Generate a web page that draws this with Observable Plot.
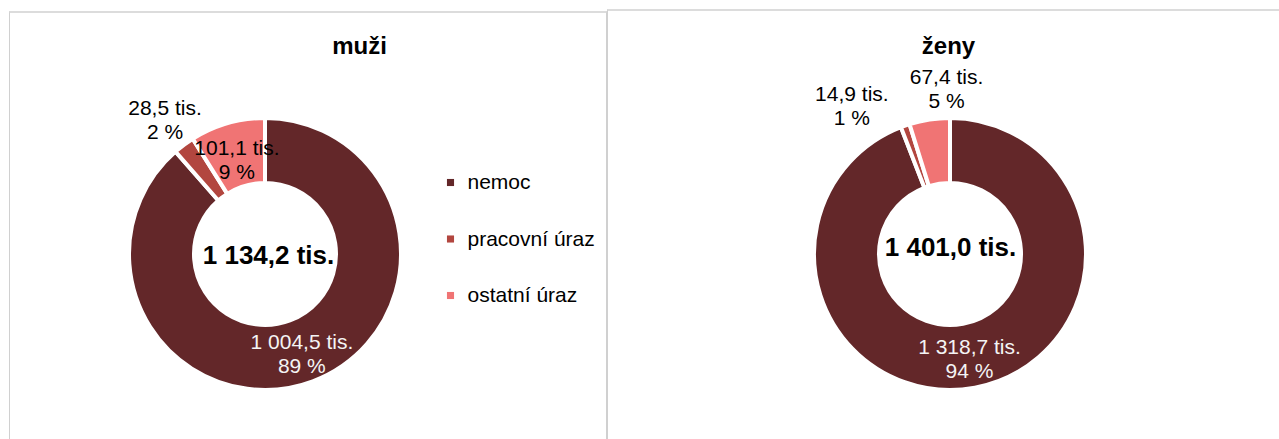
<!DOCTYPE html>
<html><head><meta charset="utf-8">
<script src="https://cdn.jsdelivr.net/npm/d3@7"></script>
<script src="https://cdn.jsdelivr.net/npm/@observablehq/plot@0.6"></script>
<style>
body{margin:0;background:#fff;font-family:"Liberation Sans",Arial,sans-serif}
#wrap{position:relative;width:1279px;height:439px;overflow:hidden;background:#fff}
.panel{position:absolute;box-sizing:border-box;border-left:1px solid #d0d0d0;border-right:1px solid #d0d0d0;border-top:2px solid #dcdcdc;background:#fff}
#wrap svg{position:absolute;left:0;top:0}
</style></head><body><div id="wrap"></div>
<script>
// ---- data ----
const categories = ["nemoc", "pracovní úraz", "ostatní úraz"];
const muzi = [1004.5, 28.5, 101.1];          // tis.
const zeny = [1318.7, 14.9, 67.4];           // tis.
const muziPct = [89, 2, 9];
const zenyPct = [94, 1, 5];
const totals = [1134.2, 1401.0];
const panelTitles = ["muži", "ženy"];
const colors = ["#632729", "#B2463F", "#F07474"];

// ---- layout ----
const W = 1279, H = 439;
const FONT = "'Liberation Sans', Arial, sans-serif";
const wrap = document.getElementById("wrap");
const fmt = d3.formatLocale({decimal: ",", thousands: " ", grouping: [3], currency: ["", ""]}).format(",.1f");
const color = Plot.scale({color: {type: "ordinal", domain: categories, range: colors}});

// panel frames
[[9, 11, 598, 500], [607, 9, 700, 500]].forEach(([l, t, w, h]) => {
  const d = document.createElement("div");
  d.className = "panel";
  Object.assign(d.style, {left: l + "px", top: t + "px", width: w + "px", height: h + "px"});
  wrap.appendChild(d);
});

const panels = [
  {title: panelTitles[0], values: muzi, pct: muziPct, total: totals[0], cx: 265, cy: 254,
   titleX: 359, titleY: 46, totalX: 268, totalY: 255, legend: true,
   place: [{r: 103.5, dx: 0, dy: 2, inside: true}, {r: 168.5, dx: 0, dy: 0}, {r: 103.5, dx: 0, dy: 4}]},
  {title: panelTitles[1], values: zeny, pct: zenyPct, total: totals[1], cx: 950, cy: 254,
   titleX: 948, titleY: 46, totalX: 950, totalY: 247, legend: false,
   place: [{r: 103.5, dx: 0, dy: 2, inside: true}, {r: 178, dx: -40, dy: 19}, {r: 166, dx: 21, dy: -2}]}
];
const R0 = 71, R1 = 136;

function donut(p) {
  return () => {
    const pie = d3.pie().sort(null).startAngle(0).endAngle(2 * Math.PI)(p.values);
    const arc = d3.arc().innerRadius(R0).outerRadius(R1);
    const g = d3.create("svg:g").attr("transform", `translate(${p.cx},${p.cy})`);
    g.selectAll("path").data(pie).join("path")
      .attr("d", arc)
      .attr("fill", d => color.apply(categories[d.index]))
      .attr("stroke", "#fff").attr("stroke-width", 4).attr("stroke-linejoin", "miter");
    return g.node();
  };
}

panels.forEach(p => {
  const pie = d3.pie().sort(null).startAngle(0).endAngle(2 * Math.PI)(p.values);
  const labels = pie.map((s, i) => {
    const a = (s.startAngle + s.endAngle) / 2, pl = p.place[i];
    return {
      x: p.cx + pl.r * Math.sin(a) + pl.dx,
      y: p.cy - pl.r * Math.cos(a) + pl.dy,
      text: `${fmt(p.values[i])} tis.\n${p.pct[i]} %`,
      inside: !!pl.inside
    };
  });
  const marks = [
    donut(p),
    Plot.text(labels.filter(d => d.inside), {x: "x", y: "y", text: "text", fill: "#f4f4f4", fontSize: 21, lineHeight: 1.15, textAnchor: "middle"}),
    Plot.text(labels.filter(d => !d.inside), {x: "x", y: "y", text: "text", fill: "#000", fontSize: 21, lineHeight: 1.15, textAnchor: "middle"}),
    Plot.text([p.title], {x: () => p.titleX, y: () => p.titleY, text: d => d, fontSize: 24, fontWeight: "bold", fill: "#000"}),
    Plot.text([p.total], {x: () => p.totalX, y: () => p.totalY, text: d => `${fmt(d)} tis.`, fontSize: 26, fontWeight: "bold", fill: "#000"})
  ];
  if (p.legend) {
    const ly = (d, i) => 182 + i * 56.5;
    marks.push(
      Plot.dot(categories, {x: () => 450, y: ly, symbol: "square", r: 4, fill: d => color.apply(d), stroke: null}),
      Plot.text(categories, {x: () => 467, y: ly, text: d => d, textAnchor: "start", fontSize: 21, fill: "#000"})
    );
  }
  const chart = Plot.plot({
    width: W, height: H, margin: 0,
    x: {type: "identity", axis: null},
    y: {type: "identity", axis: null},
    color: {type: "identity"},
    style: {background: "transparent", fontFamily: FONT, overflow: "visible"},
    marks
  });
  wrap.appendChild(chart);
});
</script>
</body></html>
